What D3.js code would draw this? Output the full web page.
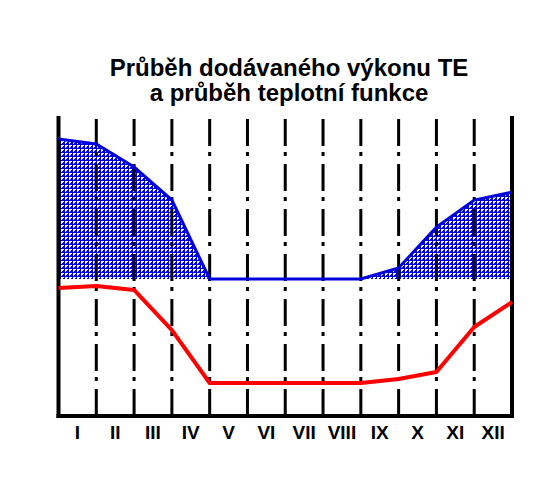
<!DOCTYPE html>
<html>
<head>
<meta charset="utf-8">
<script src="https://cdn.jsdelivr.net/npm/d3@7"></script>
<style>
  html, body { margin: 0; padding: 0; background: #ffffff; }
  svg { display: block; }
</style>
</head>
<body>
<div id="chart"></div>
<script>
// ---- data ----
const titleLines = ["Průběh dodávaného výkonu TE", "a průběh teplotní funkce"];
const months = ["I", "II", "III", "IV", "V", "VI", "VII", "VIII", "IX", "X", "XI", "XII"];
// values at month boundaries (13 points: start of I ... end of XII), relative units 0-100
const powerValues = [100, 96.4, 80, 56.4, 0, 0, 0, 0, 0, 7.9, 37, 56.4, 62];
const tempValues = [97.9, 100, 95.9, 54.6, 0, 0, 0, 0, 0, 4.1, 11.3, 57.7, 83.5];

// ---- layout ----
const W = 558, H = 479;
const plotLeft = 58.5, plotRight = 512, plotTop = 116, plotBottom = 416;

const svg = d3.select("#chart").append("svg")
  .attr("width", W).attr("height", H);

const defs = svg.append("defs");
const pat = defs.append("pattern")
  .attr("id", "hatch").attr("patternUnits", "userSpaceOnUse")
  .attr("width", 4).attr("height", 4);
pat.append("rect").attr("width", 4).attr("height", 4).attr("fill", "#0000dd");
pat.append("rect").attr("x", 1).attr("y", 1).attr("width", 2).attr("height", 2).attr("fill", "#ffffff");
pat.append("rect").attr("x", 3).attr("y", 1).attr("width", 1).attr("height", 1).attr("fill", "#ffffff");
pat.append("rect").attr("x", 1).attr("y", 3).attr("width", 1).attr("height", 1).attr("fill", "#ffffff");

const x = d3.scaleLinear().domain([0, months.length]).range([plotLeft, plotRight]);
const yP = d3.scaleLinear().domain([0, 100]).range([279, 139]);
const yT = d3.scaleLinear().domain([0, 100]).range([383, 286]);

// title
svg.append("g").selectAll("text").data(titleLines).join("text")
  .attr("x", 289).attr("y", (d, i) => 76 + i * 25)
  .attr("text-anchor", "middle")
  .attr("font-family", "'Liberation Sans', Arial, sans-serif")
  .attr("font-weight", "bold").attr("font-size", 24)
  .attr("fill", "#000")
  .text(d => d);

// power area
const area = d3.area()
  .x((d, i) => x(i)).y0(yP(0)).y1(d => yP(d));
svg.append("path").datum(powerValues)
  .attr("d", area).attr("fill", "url(#hatch)");

// grid lines (dash-dot)
svg.append("g").selectAll("line").data(d3.range(1, months.length)).join("line")
  .attr("x1", d => x(d)).attr("x2", d => x(d))
  .attr("y1", plotTop + 3).attr("y2", plotBottom)
  .attr("stroke", "#000").attr("stroke-width", 3)
  .attr("stroke-dasharray", "27,6,4,8");

// axes frame
svg.append("line").attr("x1", plotLeft).attr("x2", plotLeft).attr("y1", plotTop).attr("y2", plotBottom + 2)
  .attr("stroke", "#000").attr("stroke-width", 4);
svg.append("line").attr("x1", plotRight).attr("x2", plotRight).attr("y1", plotTop).attr("y2", plotBottom + 2)
  .attr("stroke", "#000").attr("stroke-width", 4);
svg.append("line").attr("x1", plotLeft - 2).attr("x2", plotRight + 2).attr("y1", plotBottom).attr("y2", plotBottom)
  .attr("stroke", "#000").attr("stroke-width", 4);

// power line
const lineP = d3.line().x((d, i) => x(i)).y(d => yP(d));
svg.append("path").datum(powerValues)
  .attr("d", lineP).attr("fill", "none")
  .attr("stroke", "#0000dd").attr("stroke-width", 3);

// temperature line
const lineT = d3.line().x((d, i) => x(i)).y(d => yT(d));
svg.append("path").datum(tempValues)
  .attr("d", lineT).attr("fill", "none")
  .attr("stroke", "#ff0000").attr("stroke-width", 4)
  .attr("stroke-linejoin", "round");

// month labels
svg.append("g").selectAll("text").data(months).join("text")
  .attr("x", (d, i) => x(i + 0.5)).attr("y", 439)
  .attr("text-anchor", "middle")
  .attr("font-family", "'Liberation Sans', Arial, sans-serif")
  .attr("font-weight", "bold").attr("font-size", 19)
  .attr("fill", "#000")
  .text(d => d);
</script>
</body>
</html>
